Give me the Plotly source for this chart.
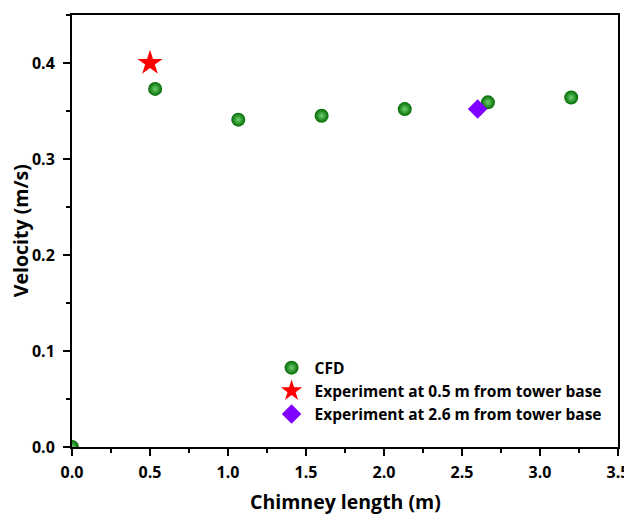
import plotly.graph_objects as go

cfd_x = [0.0, 0.533, 1.066, 1.6, 2.133, 2.666, 3.2]
cfd_y = [0.0, 0.373, 0.341, 0.345, 0.352, 0.359, 0.364]
exp1_x = [0.5]
exp1_y = [0.4]
exp2_x = [2.6]
exp2_y = [0.352]
x_title = "Chimney length (m)"
y_title = "Velocity (m/s)"

FONT = "Open Sans"

fig = go.Figure()
fig.add_trace(go.Scatter(
    x=cfd_x, y=cfd_y, mode="markers", name="CFD",
    marker=dict(size=14, color="#006a00",
                gradient=dict(type="radial", color="#6fd06f"),
                line=dict(width=0)),
))
fig.add_trace(go.Scatter(
    x=exp1_x, y=exp1_y, mode="markers", name="Experiment at 0.5 m from tower base",
    marker=dict(size=19, color="#ff0000", symbol="star", line=dict(width=0)),
))
fig.add_trace(go.Scatter(
    x=exp2_x, y=exp2_y, mode="markers", name="Experiment at 2.6 m from tower base",
    marker=dict(size=15, color="#8000ff", symbol="diamond", line=dict(width=0)),
))

axis_common = dict(
    showline=True, linecolor="black", linewidth=2, mirror=True,
    ticks="outside", ticklen=7, tickwidth=1.5, tickcolor="black",
    showgrid=False, zeroline=False, automargin=False,
    tickfont=dict(family=FONT, size=16, color="black", weight="bold"),
)
title_font = dict(family=FONT, size=19.5, color="black", weight="bold")

# the page body adds an 8px offset; figure size/margins compensate
fig.update_layout(
    width=624, height=508,
    margin=dict(l=64, r=14, t=7, b=69),
    plot_bgcolor="white", paper_bgcolor="white",
    xaxis=dict(range=[0, 3.5], dtick=0.5, tick0=0, tickformat=".1f",
               ticklabelstandoff=3,
               minor=dict(ticks="outside", ticklen=4, dtick=0.25, tickwidth=1.5, tickcolor="black"),
               **axis_common),
    yaxis=dict(range=[0, 0.45], dtick=0.1, tick0=0, tickformat=".1f",
               ticklabelstandoff=5,
               minor=dict(ticks="outside", ticklen=4, dtick=0.05, tickwidth=1.5, tickcolor="black"),
               **axis_common),
    legend=dict(x=0.36, y=0.222, xanchor="left", yanchor="top",
                bgcolor="rgba(0,0,0,0)", tracegroupgap=0, itemwidth=36,
                font=dict(family=FONT, size=15.5, color="black", weight="bold")),
    showlegend=True,
    annotations=[
        dict(text=x_title, xref="paper", yref="paper", x=0.5, y=-0.127,
             xanchor="center", yanchor="middle", showarrow=False, font=title_font),
        dict(text=y_title, xref="paper", yref="paper", x=-0.095, y=0.5,
             xanchor="center", yanchor="middle", textangle=-90, showarrow=False,
             font=title_font),
    ],
)

fig.write_html("out.html")
